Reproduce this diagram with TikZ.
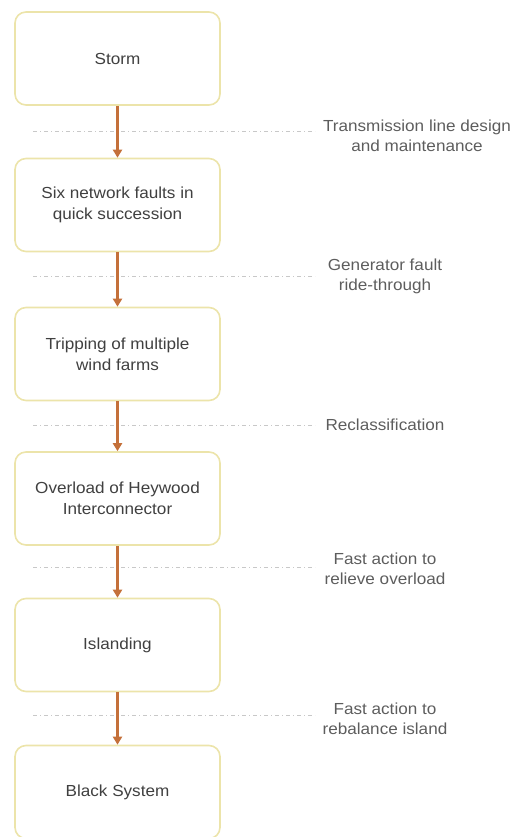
\documentclass[tikz,border=0pt]{standalone}
\usepackage{fontspec}
\setmainfont{Liberation Sans}[FakeStretch=1.07]
\usetikzlibrary{arrows.meta}
\definecolor{boxline}{RGB}{236,228,170}
\definecolor{arrowc}{RGB}{196,112,58}
\definecolor{txt}{RGB}{64,64,64}
\definecolor{dashc}{RGB}{200,200,200}
\tikzset{
  stepbox/.style={draw=boxline, line width=1.6pt, rounded corners=11pt, minimum width=205pt, minimum height=93pt, align=center, text=txt, font=\fontsize{16}{21}\selectfont, fill=white},
  flow/.style={draw=arrowc, line width=2.6pt, -{Triangle[length=8pt,width=9pt]}},
  barrier/.style={draw=dashc, line width=1pt, dash pattern=on 4pt off 3pt on 1pt off 3pt},
  lbl/.style={align=center, text=txt!85, font=\fontsize{16}{20}\selectfont}
}
\begin{document}
\begin{tikzpicture}[x=1pt,y=-1pt]
\useasboundingbox (0,0) rectangle (515,837);
\node[stepbox] (b1) at (117.5,58.5) {Storm};
\node[stepbox] (b2) at (117.5,205) {Six network faults in\\quick succession};
\node[stepbox] (b3) at (117.5,354) {Tripping of multiple\\wind farms};
\node[stepbox] (b4) at (117.5,498.5) {Overload of Heywood\\Interconnector};
\node[stepbox] (b5) at (117.5,645) {Islanding};
\node[stepbox] (b6) at (117.5,792) {Black System};

\node[lbl] (l1) at (417,136) {Transmission line design\\and maintenance};
\node[lbl] (l2) at (385,276) {Generator fault\\ride-through};
\node[lbl] (l3) at (385,425) {Reclassification};
\node[lbl] (l4) at (385,569) {Fast action to\\relieve overload};
\node[lbl] (l5) at (385,719) {Fast action to\\rebalance island};

\coordinate (e) at (315,0);
\coordinate (d1) at (33,132);
\coordinate (d2) at (33,276);
\coordinate (d3) at (33,425);
\coordinate (d4) at (33,567);
\coordinate (d5) at (33,715);
\draw[barrier] (d1) -- (d1 -| e);
\draw[barrier] (d2) -- (d2 -| e);
\draw[barrier] (d3) -- (d3 -| e);
\draw[barrier] (d4) -- (d4 -| e);
\draw[barrier] (d5) -- (d5 -| e);

\draw[flow] (b1) -- (b2);
\draw[flow] (b2) -- (b3);
\draw[flow] (b3) -- (b4);
\draw[flow] (b4) -- (b5);
\draw[flow] (b5) -- (b6);
\end{tikzpicture}
\end{document}
